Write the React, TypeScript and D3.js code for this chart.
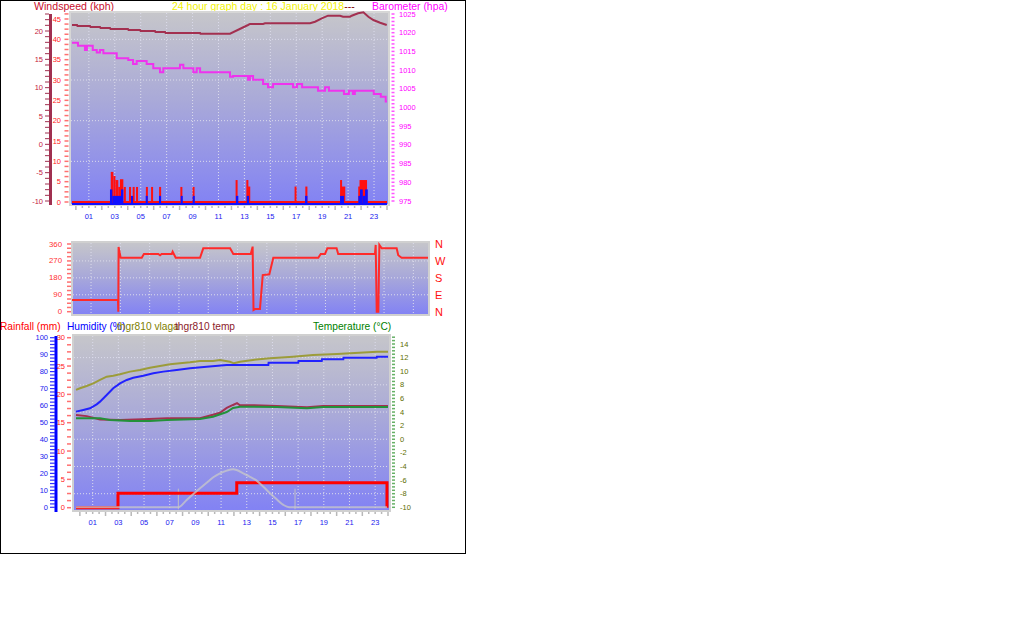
import React from 'react';
import * as d3 from 'd3';

const FONT = '"Liberation Sans", Arial, Helvetica, sans-serif';

// ---------- shared ----------
const labelHours = [1, 3, 5, 7, 9, 11, 13, 15, 17, 19, 21, 23];
const hourLabels = ['01', '03', '05', '07', '09', '11', '13', '15', '17', '19', '21', '23'];

// ---------- top panel ----------
const windAxisTicks = [-10, -5, 0, 5, 10, 15, 20];
const gustAxisTicks = [0, 5, 10, 15, 20, 25, 30, 35, 40, 45];
const baroAxisTicks = [975, 980, 985, 990, 995, 1000, 1005, 1010, 1015, 1020, 1025];

const maroonHours = [-0.3, 0.09, 0.12, 1.09, 1.13, 1.86, 1.9, 2.63, 2.67, 4.02, 4.06, 4.95, 4.99, 6.1, 6.14, 6.88, 6.92, 9.58, 9.61, 11.89, 13.28, 13.43, 14.44, 14.59, 18.06, 18.45, 18.97, 19.45, 20.38, 20.61, 21.15, 21.28, 21.77, 22.18, 22.56, 22.95, 23.47, 23.98];
const maroonValues = [21.06, 21.06, 20.88, 20.88, 20.71, 20.71, 20.53, 20.53, 20.35, 20.35, 20.18, 20.18, 20.0, 20.0, 19.82, 19.82, 19.65, 19.65, 19.52, 19.52, 21.06, 21.24, 21.24, 21.36, 21.36, 21.64, 22.24, 22.7, 22.7, 22.52, 22.52, 22.7, 23.12, 23.3, 22.52, 21.94, 21.46, 21.06];

const baroHours = [-0.3, 0.16, 0.7, 0.85, 0.93, 1.3, 1.61, 1.86, 2.12, 3.15, 4.04, 4.41, 4.69, 5.46, 5.97, 6.49, 6.74, 8.03, 8.29, 9.06, 9.32, 9.58, 11.89, 12.12, 13.28, 13.43, 13.67, 14.44, 14.82, 15.21, 16.75, 17.06, 17.45, 18.68, 19.22, 19.52, 20.68, 21.06, 21.37, 21.52, 22.98, 23.52, 23.9, 24.0];
const baroValues = [1017.3, 1016.5, 1015.4, 1016.5, 1016.5, 1015.4, 1014.7, 1015.4, 1014.5, 1013.2, 1012.7, 1011.6, 1012.4, 1011.6, 1010.5, 1009.4, 1010.5, 1011.4, 1010.5, 1009.4, 1010.5, 1009.4, 1008.2, 1008.4, 1007.4, 1008.4, 1007.4, 1006.3, 1005.4, 1006.3, 1005.4, 1006.3, 1005.4, 1004.5, 1005.4, 1004.5, 1003.6, 1004.5, 1003.6, 1004.5, 1003.6, 1002.9, 1001.6, 1001.6];

const gustStart = [2.69, 2.89, 3.05, 3.27, 3.40, 3.70, 4.10, 4.38, 4.64, 5.40, 5.80, 6.42, 8.06, 9.00, 12.32, 13.15, 13.28, 16.87, 17.70, 20.38, 20.52, 21.78, 21.88];
const gustEnd = [2.89, 3.05, 3.27, 3.40, 3.66, 3.85, 4.25, 4.52, 4.78, 5.55, 5.95, 6.57, 8.21, 9.15, 12.47, 13.28, 13.45, 17.00, 17.86, 20.52, 20.78, 21.88, 22.46];
const gustValue = [7.4, 6.4, 5.4, 3.7, 5.6, 3.7, 3.7, 3.7, 3.7, 3.7, 3.7, 3.7, 3.7, 3.7, 5.4, 5.4, 3.8, 3.8, 3.8, 5.4, 3.8, 3.8, 5.4];

const speedStart = [2.63, 2.81, 3.48, 4.25, 5.39, 6.41, 8.09, 9.01, 12.35, 13.18, 17.68, 20.38, 21.79, 21.92, 22.13, 22.31];
const speedEnd = [2.81, 3.48, 3.66, 4.41, 5.51, 6.57, 8.24, 9.17, 12.53, 13.36, 17.86, 20.69, 21.92, 22.13, 22.31, 22.52];
const speedValue = [3.1, 1.5, 3.1, 1.5, 1.5, 1.5, 1.5, 1.5, 1.5, 1.5, 1.5, 1.5, 1.5, 3.1, 1.5, 3.1];

// ---------- middle panel ----------
const dirAxisTicks = [0, 90, 180, 270, 360];
const dirLetters = ['N', 'E', 'S', 'W', 'N'];
const dirHours = [-0.3, 2.84, 2.86, 2.88, 3.02, 4.46, 4.61, 5.59, 5.71, 5.82, 6.51, 6.57, 6.78, 8.44, 8.66, 10.49, 10.71, 11.90, 12.03, 12.09, 12.19, 12.53, 12.72, 13.17, 13.44, 16.51, 16.68, 16.97, 17.13, 17.76, 17.87, 20.38, 20.43, 20.50, 20.61, 20.68, 20.84, 21.86, 21.97, 22.20, 24.0];
const dirValues = [62, 62, 0, 344, 287, 287, 307, 307, 300, 307, 307, 319, 287, 287, 337, 337, 307, 307, 346, 9, 14, 14, 195, 199, 287, 287, 307, 307, 337, 337, 307, 307, 355, 0, 0, 355, 337, 337, 300, 287, 287];

// ---------- bottom panel ----------
const humAxisTicks = [0, 10, 20, 30, 40, 50, 60, 70, 80, 90, 100];
const rainAxisTicks = [0, 5, 10, 15, 20, 25, 30];
const tempAxisTicks = [-10, -8, -6, -4, -2, 0, 2, 4, 6, 8, 10, 12, 14];

const vlagaHours = [-0.3, 0.01, 0.53, 1.05, 1.57, 2.09, 2.6, 3.13, 3.91, 4.68, 5.46, 6.24, 7.02, 7.8, 8.58, 9.36, 10.37, 10.91, 11.69, 12.0, 12.47, 13.48, 14.8, 16.6, 18.16, 20.03, 23.15, 24.0];
const vlagaValues = [69.2, 70.2, 71.5, 73.1, 75.1, 77.0, 77.6, 78.4, 80.0, 81.0, 82.3, 83.3, 84.3, 84.9, 85.5, 86.3, 86.3, 86.9, 85.8, 84.9, 85.8, 86.9, 87.9, 88.8, 89.8, 90.4, 91.7, 91.7];

const humHours = [-0.3, 0.27, 0.79, 1.31, 1.57, 2.09, 2.6, 3.13, 3.65, 4.16, 4.94, 5.72, 6.5, 7.54, 8.58, 9.88, 11.43, 14.68, 14.7, 17.01, 17.03, 18.84, 18.86, 20.52, 20.54, 23.12, 23.14, 24];
const humValues = [56.4, 57.4, 58.4, 60.7, 62.3, 66.2, 70.2, 73.1, 75.1, 76.4, 77.6, 79.0, 80.0, 81.0, 82.0, 82.9, 83.9, 83.9, 85.3, 85.3, 86.3, 86.3, 87.3, 87.3, 88.2, 88.2, 88.8, 88.8];

const thgrTempHours = [-0.3, 0.53, 1.57, 3.13, 4.92, 6.79, 9.36, 10.37, 10.91, 11.44, 11.93, 12.24, 12.47, 13.49, 15.35, 17.69, 18.95, 24];
const thgrTempValues = [3.57, 3.4, 2.9, 2.83, 2.95, 3.1, 3.1, 3.6, 3.9, 4.6, 5.04, 5.3, 5.0, 5.0, 4.9, 4.7, 4.9, 4.89];

const tempHours = [-0.3, 1.57, 2.35, 3.91, 5.46, 6.79, 9.36, 10.37, 11.44, 11.93, 12.47, 15.35, 17.69, 18.95, 24];
const tempValues = [3.08, 3.08, 2.83, 2.68, 2.7, 2.83, 2.98, 3.32, 4.0, 4.6, 4.79, 4.74, 4.55, 4.74, 4.74];

const rainHours = [-0.3, 2.97, 12.22, 23.92];
const rainValues = [0, 2.54, 4.4, 0];

const solarHours = [-0.3, 7.67, 8.32, 8.84, 9.36, 9.88, 10.39, 10.91, 11.44, 11.95, 12.21, 12.73, 13.25, 13.77, 14.29, 14.81, 15.33, 15.85, 16.3, 23.92];
const solarValues = [0, 0, 4.3, 7.8, 11.2, 14.5, 17.7, 20.0, 21.6, 22.4, 22.0, 20.0, 18.0, 15.7, 12.1, 8.3, 4.7, 1.4, 0, 0];

const sunHours = [7.67, 16.76];

const zip = (a: number[], b: number[]) => a.map((v, i) => [v, b[i]] as [number, number]);
const range = (a: number, b: number, s: number) => d3.range(a, b + s / 2, s);

export default function App() {
  // scales
  const xTop = d3.scaleLinear().domain([-0.3, 24]).range([72, 387]);
  const yWind = d3.scaleLinear().domain([-10, 20]).range([201, 31]);
  const yGust = d3.scaleLinear().domain([0, 45]).range([202, 19]);
  const yBaro = d3.scaleLinear().domain([975, 1025]).range([201, 14]);

  const xMid = d3.scaleLinear().domain([-0.3, 24]).range([72, 428]);
  const yDir = d3.scaleLinear().domain([0, 360]).range([311.7, 244]);

  const xBot = d3.scaleLinear().domain([-0.3, 24]).range([76, 388]);
  const yHum = d3.scaleLinear().domain([0, 100]).range([507.3, 337.7]);
  const yRain = d3.scaleLinear().domain([0, 30]).range([507.7, 337.7]);
  const yTemp = d3.scaleLinear().domain([-10, 14]).range([507.3, 344]);

  const lineOf = (x: d3.ScaleLinear<number, number>, y: d3.ScaleLinear<number, number>, curve: d3.CurveFactory = d3.curveLinear) =>
    d3.line<[number, number]>().x((d) => x(d[0])).y((d) => y(d[1])).curve(curve);

  const topPlot = { x0: 70, x1: 389, y0: 12, y1: 205 };
  const midPlot = { x0: 72, x1: 429, y0: 242, y1: 315 };
  const botPlot = { x0: 73, x1: 390, y0: 335, y1: 511 };

  const grid = '#dcdcec';

  return (
    <svg width={1016} height={626} style={{ position: 'absolute', left: 0, top: 0, background: '#fff' }} fontFamily={FONT}>
      <defs>
        <linearGradient id="bg" x1="0" y1="0" x2="0" y2="1">
          <stop offset="0" stopColor="#c6c6ca" />
          <stop offset="0.45" stopColor="#aaaad8" />
          <stop offset="1" stopColor="#8282f4" />
        </linearGradient>
      </defs>
      <rect x={0} y={0} width={1016} height={626} fill="#fff" />
      <rect x={0.5} y={0.5} width={465} height={553} fill="none" stroke="#000" strokeWidth={1} />

      {/* ================= TOP PANEL ================= */}
      <text x={34} y={10} fontSize={10.6} fill="#c8102e">Windspeed (kph)</text>
      <text x={172} y={10} fontSize={10.5} fill="#f2f200">
        24 hour graph day : 16 January 2018<tspan fill="#800000">---</tspan>
      </text>
      <text x={372} y={10} fontSize={10.4} fill="#ff00ff">Barometer (hpa)</text>

      <rect x={topPlot.x0} y={topPlot.y0} width={topPlot.x1 - topPlot.x0} height={topPlot.y1 - topPlot.y0} fill="url(#bg)" stroke="#d6d6d6" strokeWidth={2} />
      {labelHours.map((h) => (
        <line key={'tg' + h} x1={xTop(h)} x2={xTop(h)} y1={topPlot.y0 + 1} y2={topPlot.y1 - 1} stroke={grid} strokeDasharray="1 2" />
      ))}
      {[10, 20, 30, 40].map((v) => (
        <line key={'th' + v} x1={topPlot.x0 + 1} x2={topPlot.x1 - 1} y1={yGust(v)} y2={yGust(v)} stroke={grid} strokeDasharray="1 2" />
      ))}

      {/* outer wind axis */}
      <line x1={50.5} x2={50.5} y1={14} y2={205} stroke="#a03050" strokeWidth={3} />
      {range(-10, 23, 1).map((v) => (
        <line key={'wt' + v} x1={45} x2={49} y1={yWind(v)} y2={yWind(v)} stroke="#a03050" strokeWidth={1} />
      ))}
      {windAxisTicks.map((v) => (
        <text key={'wl' + v} x={43} y={yWind(v) + 2.5} fontSize={7.5} fill="#c41a3c" textAnchor="end">{v}</text>
      ))}
      {/* inner gust axis */}
      {range(0, 46.25, 1.25).map((v) => (
        <line key={'gt' + v} x1={64.5} x2={68.5} y1={yGust(v)} y2={yGust(v)} stroke="#ff7070" strokeWidth={1.5} />
      ))}
      {gustAxisTicks.map((v) => (
        <text key={'gl' + v} x={61} y={yGust(v) + 2.5} fontSize={7.5} fill="#ff1a1a" textAnchor="end">{v}</text>
      ))}
      {/* barometer axis */}
      {range(975, 1025, 1).map((v) => (
        <line key={'bt' + v} x1={391.5} x2={394.5} y1={yBaro(v)} y2={yBaro(v)} stroke="#ff55ff" strokeWidth={1.5} />
      ))}
      {baroAxisTicks.map((v) => (
        <text key={'bl' + v} x={399} y={yBaro(v) + 2.5} fontSize={7.5} fill="#ff00ff">{v}</text>
      ))}

      {/* bars */}
      {gustStart.map((s, i) => (
        <rect key={'gb' + i} x={xTop(s)} y={yGust(gustValue[i])} width={Math.max(2, xTop(gustEnd[i]) - xTop(s))} height={yGust(0) - yGust(gustValue[i])} fill="#ff1010" />
      ))}
      <line x1={xTop(-0.3)} x2={xTop(24)} y1={yGust(0)} y2={yGust(0)} stroke="#ff1010" strokeWidth={2} />
      {speedStart.map((s, i) => (
        <rect key={'sb' + i} x={xTop(s)} y={yGust(speedValue[i])} width={Math.max(2, xTop(speedEnd[i]) - xTop(s))} height={yGust(0) + 3 - yGust(speedValue[i])} fill="#1010ff" />
      ))}
      <line x1={xTop(-0.3)} x2={xTop(24)} y1={yGust(0) + 2} y2={yGust(0) + 2} stroke="#1010ff" strokeWidth={2} />

      <path d={lineOf(xTop, yWind)(zip(maroonHours, maroonValues)) || ''} fill="none" stroke="#a33050" strokeWidth={2} />
      <path d={lineOf(xTop, yBaro, d3.curveStepAfter)(zip(baroHours, baroValues)) || ''} fill="none" stroke="#ee33ee" strokeWidth={2} />

      {/* x ticks and labels */}
      {range(0, 24, 0.5).map((h) => (
        <line key={'xt' + h} x1={xTop(h)} x2={xTop(h)} y1={206} y2={h % 2 === 0 ? 210 : 208} stroke="#b8b8b8" strokeWidth={1.5} />
      ))}
      {labelHours.map((h, i) => (
        <text key={'xl' + h} x={xTop(h)} y={219} fontSize={7.5} fill="#2020ee" textAnchor="middle">{hourLabels[i]}</text>
      ))}

      {/* ================= MIDDLE PANEL ================= */}
      <rect x={midPlot.x0} y={midPlot.y0} width={midPlot.x1 - midPlot.x0} height={midPlot.y1 - midPlot.y0} fill="url(#bg)" stroke="#d0d0d0" strokeWidth={2} />
      {labelHours.map((h) => (
        <line key={'mg' + h} x1={xMid(h)} x2={xMid(h)} y1={midPlot.y0 + 1} y2={midPlot.y1 - 1} stroke={grid} strokeDasharray="1 2" />
      ))}
      {[90, 180, 270].map((v) => (
        <line key={'mh' + v} x1={midPlot.x0 + 1} x2={midPlot.x1 - 1} y1={yDir(v)} y2={yDir(v)} stroke={grid} strokeDasharray="1 2" />
      ))}
      {range(0, 360, 22.5).map((v) => (
        <line key={'dt' + v} x1={67} x2={71} y1={yDir(v)} y2={yDir(v)} stroke="#ff7070" strokeWidth={1.5} />
      ))}
      {dirAxisTicks.map((v) => (
        <text key={'dl' + v} x={62} y={yDir(v) + 2.5} fontSize={7.8} fill="#ff3030" textAnchor="end">{v}</text>
      ))}
      {dirAxisTicks.map((v, i) => (
        <text key={'dL' + v} x={435} y={yDir(v) + 4} fontSize={11} fill="#ff1010">{dirLetters[i]}</text>
      ))}
      <path d={lineOf(xMid, yDir)(zip(dirHours, dirValues)) || ''} fill="none" stroke="#ff2a2a" strokeWidth={2} />

      {/* ================= BOTTOM PANEL ================= */}
      <text x={0} y={330} fontSize={10.2} fill="#ff0000">Rainfall (mm)</text>
      <text x={67} y={330} fontSize={10.2} fill="#0000ff">Humidity (%)</text>
      <text x={117} y={330} fontSize={10.2} fill="#808000">thgr810 vlaga</text>
      <text x={175} y={330} fontSize={10.2} fill="#8b1a2b">thgr810 temp</text>
      <text x={313} y={330} fontSize={10.2} fill="#008000">Temperature (°C)</text>

      <rect x={botPlot.x0} y={botPlot.y0} width={botPlot.x1 - botPlot.x0} height={botPlot.y1 - botPlot.y0} fill="url(#bg)" stroke="#d0d0d0" strokeWidth={2} />
      {labelHours.map((h) => (
        <line key={'bg' + h} x1={xBot(h)} x2={xBot(h)} y1={botPlot.y0 + 1} y2={botPlot.y1 - 1} stroke={grid} strokeDasharray="1 2" />
      ))}
      {[-8, -4, 0, 4, 8, 12].map((v) => (
        <line key={'bh' + v} x1={botPlot.x0 + 1} x2={botPlot.x1 - 1} y1={yTemp(v)} y2={yTemp(v)} stroke={grid} strokeDasharray="1 2" />
      ))}

      {/* humidity axis */}
      <line x1={56} x2={56} y1={336} y2={512} stroke="#0000ff" strokeWidth={3} />
      {range(0, 100, 2).map((v) => (
        <line key={'ht' + v} x1={50} x2={55} y1={yHum(v)} y2={yHum(v)} stroke="#3030ff" strokeWidth={1.2} />
      ))}
      {humAxisTicks.map((v) => (
        <text key={'hl' + v} x={48} y={yHum(v) + 2.5} fontSize={7.5} fill="#2020ee" textAnchor="end">{v}</text>
      ))}
      {/* rain axis */}
      {range(0, 30, 1.25).map((v) => (
        <line key={'rt' + v} x1={67} x2={71} y1={yRain(v)} y2={yRain(v)} stroke="#ff7070" strokeWidth={1.5} />
      ))}
      {rainAxisTicks.map((v) => (
        <text key={'rl' + v} x={65} y={yRain(v) + 2.5} fontSize={7.5} fill="#ff1a1a" textAnchor="end">{v}</text>
      ))}
      {/* temperature axis */}
      {range(-10, 15, 0.5).map((v) => (
        <line key={'tt' + v} x1={392} x2={395} y1={yTemp(v)} y2={yTemp(v)} stroke="#66b066" strokeWidth={1.5} />
      ))}
      {tempAxisTicks.map((v) => (
        <text key={'tl' + v} x={400} y={yTemp(v) + 2.5} fontSize={7.5} fill="#5e6e00">{v}</text>
      ))}

      {/* sunrise / sunset markers */}
      {sunHours.map((h) => (
        <line key={'sun' + h} x1={xBot(h)} x2={xBot(h)} y1={yHum(0) + 2} y2={yHum(11)} stroke="#d8d8b0" strokeWidth={1} opacity={0.7} />
      ))}

      <path d={lineOf(xBot, yRain, d3.curveStepAfter)(zip(rainHours, rainValues)) || ''} fill="none" stroke="#ff0000" strokeWidth={3} />
      <path d={lineOf(xBot, yHum, d3.curveMonotoneX)(zip(solarHours, solarValues)) || ''} fill="none" stroke="#c8c8c8" strokeWidth={2} opacity={0.75} />
      <path d={lineOf(xBot, yHum)(zip(vlagaHours, vlagaValues)) || ''} fill="none" stroke="#9c9c3a" strokeWidth={2} />
      <path d={lineOf(xBot, yHum)(zip(humHours, humValues)) || ''} fill="none" stroke="#2222ff" strokeWidth={2} />
      <path d={lineOf(xBot, yTemp)(zip(thgrTempHours, thgrTempValues)) || ''} fill="none" stroke="#a33050" strokeWidth={2} />
      <path d={lineOf(xBot, yTemp)(zip(tempHours, tempValues)) || ''} fill="none" stroke="#23913a" strokeWidth={2} />

      {range(0, 24, 0.5).map((h) => (
        <line key={'bxt' + h} x1={xBot(h)} x2={xBot(h)} y1={512} y2={h % 2 === 0 ? 516 : 514} stroke="#b8b8b8" strokeWidth={1.5} />
      ))}
      {labelHours.map((h, i) => (
        <text key={'bxl' + h} x={xBot(h)} y={525} fontSize={7.5} fill="#2020ee" textAnchor="middle">{hourLabels[i]}</text>
      ))}
    </svg>
  );
}
